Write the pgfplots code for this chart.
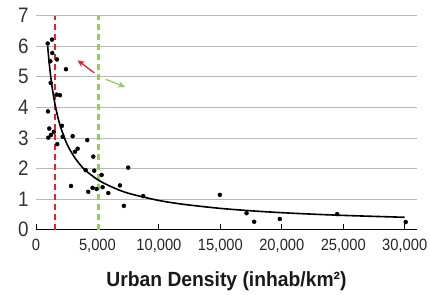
\documentclass[border=0pt]{standalone}
\usepackage{pgfplots}
\pgfplotsset{compat=1.18}
\usetikzlibrary{arrows.meta}
\usepackage{fontspec}
\setmainfont{Liberation Sans}
\newfontfamily\condfont[FakeStretch=0.94]{Liberation Sans}
\newfontfamily\tickfont[FakeStretch=0.9]{Liberation Sans}
\definecolor{myred}{RGB}{232,32,40}
\definecolor{mygreen}{RGB}{150,204,96}
\definecolor{mygrid}{RGB}{185,185,185}
\begin{document}
\begin{tikzpicture}
\begin{axis}[
  scale only axis, width=381bp, height=214bp,
  xmin=0, xmax=31000, ymin=0, ymax=7,
  axis x line=bottom, axis y line=left,
  axis line style={-},
  y axis line style={draw=none},
  x axis line style={black, line width=0.9bp},
  xtick={0,5000,10000,15000,20000,25000,30000},
  ytick={0,1,2,3,4,5,6,7},
  scaled x ticks=false,
  tick align=inside,
  major tick length=6bp,
  xtick style={black, line width=0.9bp},
  ytick style={draw=none},
  ymajorgrids, grid style={mygrid, line width=0.9bp},
  /pgf/number format/assume math mode=true,
  /pgf/number format/1000 sep={,},
  xticklabel style={font=\tickfont\fontsize{16.4}{17}\selectfont, text=black!85, yshift=-6bp},
  yticklabel style={font=\tickfont\fontsize{21}{22}\selectfont, text=black!80, xshift=-4bp},
  xlabel={\condfont\bfseries Urban Density (inhab/km²)},
  xlabel style={font=\fontsize{20.6}{21}\selectfont, text=black!90,
    at={(axis description cs:0.5,0)}, anchor=base, yshift=-56.3bp},
  clip=false,
]
\addplot[myred, line width=2.6bp, dash pattern=on 6bp off 4bp] coordinates {(1550,0) (1550,7)};
\addplot[mygreen, line width=2.6bp, dash pattern=on 6bp off 4bp] coordinates {(5100,0) (5100,7)};
\addplot[black, line width=1.6bp, smooth] table {
x y
950 6.00
1100 5.35
1300 4.70
1500 4.20
1750 3.73
2000 3.36
2500 2.82
3000 2.45
3500 2.17
4000 1.95
5000 1.64
6000 1.43
7000 1.26
8000 1.14
10000 0.956
12000 0.830
15000 0.697
18000 0.605
21000 0.536
25000 0.468
30000 0.406
};
\addplot[only marks, mark=*, mark size=2bp, black] table {
x y
951 6.09
1300 6.22
1325 5.78
1163 5.51
1707 5.57
2440 5.25
1195 4.80
1680 4.42
1950 4.40
976 3.87
1080 3.31
2110 3.40
1000 3.01
1220 3.10
1450 3.20
2170 3.04
2984 3.06
4170 2.93
1730 2.80
3390 2.65
3170 2.55
4660 2.39
4040 1.95
4740 1.93
5340 1.79
7500 2.03
2850 1.43
4250 1.24
4600 1.37
4930 1.33
5420 1.39
5880 1.20
6830 1.45
7150 0.78
8720 1.10
14960 1.14
17130 0.54
17750 0.26
19840 0.35
24500 0.51
30080 0.25
};
\draw[myred, line width=1.3bp, -{Stealth[length=7bp,width=6.5bp]}] (axis cs:4740,5.13) -- (axis cs:3390,5.54);
\draw[mygreen, line width=1.3bp, -{Stealth[length=7bp,width=6.5bp]}] (axis cs:5670,4.92) -- (axis cs:7240,4.67);
\end{axis}
\pgfresetboundingbox
\path (-36bp,-65.3bp) rectangle (394bp,229.7bp);
\end{tikzpicture}
\end{document}
